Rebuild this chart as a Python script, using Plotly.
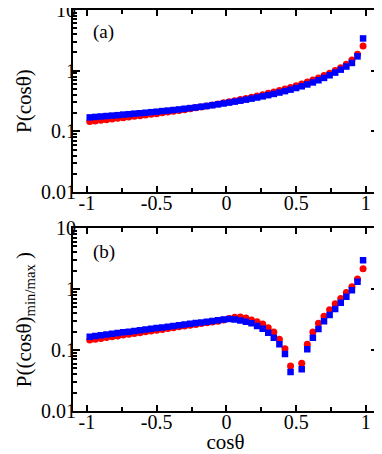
import plotly.graph_objects as go
from plotly.subplots import make_subplots

# cos(theta) bins, 50 bins of width 0.04
cos_theta = [-0.98, -0.94, -0.90, -0.86, -0.82, -0.78, -0.74, -0.70, -0.66, -0.62,
             -0.58, -0.54, -0.50, -0.46, -0.42, -0.38, -0.34, -0.30, -0.26, -0.22,
             -0.18, -0.14, -0.10, -0.06, -0.02, 0.02, 0.06, 0.10, 0.14, 0.18,
             0.22, 0.26, 0.30, 0.34, 0.38, 0.42, 0.46, 0.50, 0.54, 0.58,
             0.62, 0.66, 0.70, 0.74, 0.78, 0.82, 0.86, 0.90, 0.94, 0.98]

# panel (a)
p_a_red = [0.145, 0.148, 0.152, 0.156, 0.160, 0.164, 0.168, 0.172, 0.177, 0.181,
           0.186, 0.191, 0.196, 0.202, 0.208, 0.214, 0.221, 0.228, 0.236, 0.244,
           0.253, 0.262, 0.272, 0.283, 0.295, 0.307, 0.320, 0.334, 0.349, 0.365,
           0.383, 0.402, 0.423, 0.446, 0.471, 0.499, 0.530, 0.565, 0.604, 0.649,
           0.70, 0.76, 0.83, 0.91, 1.01, 1.12, 1.28, 1.50, 1.87, 2.55]
p_a_blue = [0.170, 0.173, 0.176, 0.179, 0.182, 0.185, 0.189, 0.192, 0.196, 0.199,
            0.203, 0.207, 0.211, 0.216, 0.220, 0.225, 0.230, 0.236, 0.242, 0.248,
            0.255, 0.262, 0.270, 0.279, 0.288, 0.298, 0.309, 0.320, 0.333, 0.346,
            0.361, 0.377, 0.395, 0.414, 0.436, 0.460, 0.487, 0.518, 0.553, 0.593,
            0.64, 0.695, 0.76, 0.84, 0.93, 1.04, 1.17, 1.34, 1.72, 3.40]

# panel (b), no point at 0.50
p_b_red = [0.146, 0.151, 0.155, 0.160, 0.165, 0.170, 0.176, 0.181, 0.187, 0.193,
           0.199, 0.205, 0.212, 0.218, 0.225, 0.232, 0.240, 0.247, 0.255, 0.263,
           0.272, 0.280, 0.289, 0.298, 0.310, 0.330, 0.345, 0.348, 0.335, 0.310,
           0.291, 0.267, 0.232, 0.197, 0.151, 0.105, 0.0547, None, 0.0605, 0.124,
           0.197, 0.274, 0.36, 0.458, 0.575, 0.70, 0.88, 1.09, 1.46, 2.15]
p_b_blue = [0.166, 0.170, 0.175, 0.180, 0.185, 0.190, 0.195, 0.200, 0.206, 0.211,
            0.217, 0.223, 0.229, 0.235, 0.242, 0.248, 0.255, 0.262, 0.269, 0.277,
            0.284, 0.292, 0.300, 0.308, 0.316, 0.322, 0.318, 0.305, 0.290, 0.274,
            0.247, 0.224, 0.192, 0.159, 0.124, 0.086, 0.0436, None, 0.0483, 0.1026,
            0.159, 0.221, 0.298, 0.375, 0.47, 0.597, 0.75, 0.96, 1.32, 2.98]

x_ticks = [-1, -0.5, 0, 0.5, 1]
x_ticktext = ["-1", "-0.5", "0", "0.5", "1"]
y_ticks = [0.01, 0.1, 1, 10]
y_ticktext = ["0.01", "0.1", "1", "10"]

FONT = "Liberation Serif, Times New Roman, serif"

fig = make_subplots(rows=2, cols=1, vertical_spacing=0.09)

for row, red, blue in [(1, p_a_red, p_a_blue), (2, p_b_red, p_b_blue)]:
    fig.add_trace(go.Scatter(x=cos_theta, y=red, mode="markers",
                             marker=dict(symbol="circle", size=7, color="#ff0000"),
                             showlegend=False), row=row, col=1)
    fig.add_trace(go.Scatter(x=cos_theta, y=blue, mode="markers",
                             marker=dict(symbol="square", size=6.5, color="#0000ff"),
                             showlegend=False), row=row, col=1)

minor_y = [m * 10 ** e for e in (-2, -1, 0) for m in range(2, 10)]

axis_common = dict(showline=True, linewidth=2, linecolor="black", mirror="allticks",
                   ticks="inside", tickcolor="black", tickwidth=1.5,
                   showgrid=False, zeroline=False, automargin=False,
                   ticklabeloverflow="allow",
                   tickfont=dict(family=FONT, size=20, color="black"))

fig.update_xaxes(range=[-1.1, 1.087], tickvals=x_ticks, ticktext=x_ticktext, ticklen=6,
                 ticklabelstandoff=-8,
                 minor=dict(tickvals=[-0.75, -0.25, 0.25, 0.75], ticks="inside", ticklen=4,
                            tickcolor="black", tickwidth=1.5, showgrid=False),
                 **axis_common)
fig.update_yaxes(type="log", range=[-2, 1], tickvals=y_ticks, ticktext=y_ticktext, ticklen=7,
                 ticklabelstandoff=-9,
                 minor=dict(tickvals=minor_y, ticks="inside", ticklen=4,
                            tickcolor="black", tickwidth=1.5, showgrid=False),
                 **axis_common)

fig.update_yaxes(title=dict(text="P(cosθ)", font=dict(family=FONT, size=21, color="black"),
                            standoff=4), row=1, col=1)
fig.update_yaxes(title=dict(text="P((cosθ)<sub>min/max</sub> )",
                            font=dict(family=FONT, size=21, color="black"), standoff=4),
                 row=2, col=1)
fig.update_xaxes(title=dict(text="cosθ", font=dict(family=FONT, size=21, color="black"),
                            standoff=9), row=2, col=1)

fig.add_annotation(text="(a)", xref="x domain", yref="y domain", x=0.06, y=0.88,
                   xanchor="left", yanchor="middle", showarrow=False,
                   font=dict(family=FONT, size=19, color="black"))
fig.add_annotation(text="(b)", xref="x2 domain", yref="y2 domain", x=0.06, y=0.87,
                   xanchor="left", yanchor="middle", showarrow=False,
                   font=dict(family=FONT, size=19, color="black"))

# page body has an 8px margin, so the figure is a bit smaller than the window
fig.update_layout(width=374, height=446, margin=dict(l=65, r=4, t=2, b=43),
                  paper_bgcolor="white", plot_bgcolor="white")
fig.update_xaxes(domain=[0, 1])
fig.layout.yaxis.domain = [0.546, 1]
fig.layout.yaxis2.domain = [0, 0.456]

fig.write_html("out.html")
